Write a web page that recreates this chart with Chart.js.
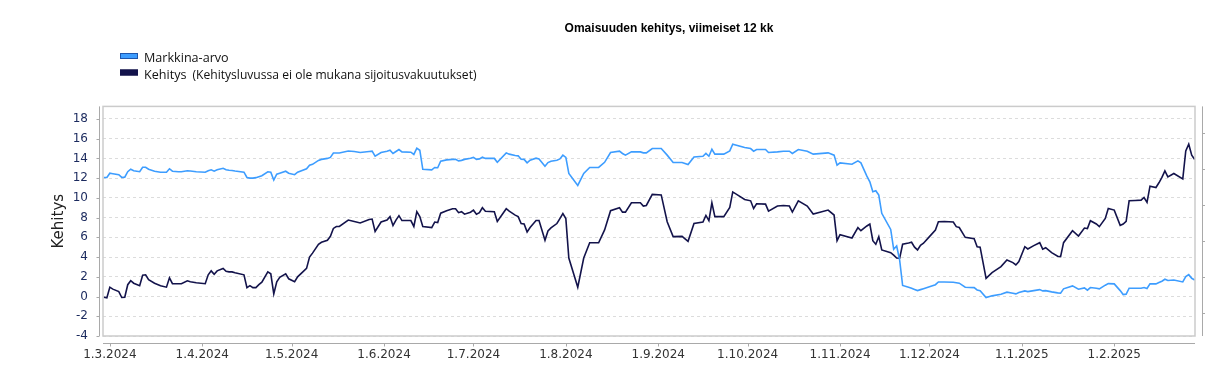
<!DOCTYPE html>
<html><head><meta charset="utf-8">
<script src="https://cdn.jsdelivr.net/npm/chart.js@4.4.1/dist/chart.umd.min.js"></script>
<style>html,body{margin:0;padding:0;background:#fff;overflow:hidden}#wrap{width:1205px;height:372px}</style>
</head><body><div id="wrap"><canvas id="c" width="1205" height="372"></canvas></div>
<script>
const chartTitle = 'Omaisuuden kehitys, viimeiset 12 kk';
const yAxisTitle = 'Kehitys';
const seriesNames = ['Markkina-arvo', 'Kehitys'];
const legendNote = '(Kehitysluvussa ei ole mukana sijoitusvakuutukset)';

const dates = [
'2024-02-28','2024-02-29','2024-03-01','2024-03-02','2024-03-04','2024-03-05','2024-03-06','2024-03-07','2024-03-08','2024-03-09',
'2024-03-11','2024-03-12','2024-03-13','2024-03-14','2024-03-16','2024-03-18','2024-03-20','2024-03-21','2024-03-22','2024-03-24',
'2024-03-25','2024-03-27','2024-03-28','2024-03-30','2024-04-02','2024-04-03','2024-04-04','2024-04-05','2024-04-06','2024-04-08',
'2024-04-09','2024-04-10','2024-04-11','2024-04-12','2024-04-15','2024-04-16','2024-04-17','2024-04-18','2024-04-19','2024-04-20',
'2024-04-21','2024-04-23','2024-04-24','2024-04-25','2024-04-26','2024-04-27','2024-04-29','2024-04-30','2024-05-02','2024-05-03',
'2024-05-06','2024-05-07','2024-05-08','2024-05-10','2024-05-11','2024-05-13','2024-05-14','2024-05-15','2024-05-16','2024-05-17',
'2024-05-20','2024-05-22','2024-05-24','2024-05-27','2024-05-28','2024-05-29','2024-05-31','2024-06-02','2024-06-03','2024-06-04',
'2024-06-05','2024-06-06','2024-06-07','2024-06-10','2024-06-11','2024-06-12','2024-06-13','2024-06-14','2024-06-17','2024-06-18',
'2024-06-19','2024-06-20','2024-06-22','2024-06-24','2024-06-25','2024-06-26','2024-06-27','2024-06-28','2024-06-30','2024-07-01',
'2024-07-02','2024-07-03','2024-07-04','2024-07-05','2024-07-08','2024-07-09','2024-07-12','2024-07-13','2024-07-15','2024-07-16',
'2024-07-17','2024-07-18','2024-07-19','2024-07-20','2024-07-22','2024-07-23','2024-07-25','2024-07-26','2024-07-27','2024-07-29',
'2024-07-30','2024-07-31','2024-08-01','2024-08-02','2024-08-05','2024-08-07','2024-08-09','2024-08-12','2024-08-14','2024-08-16',
'2024-08-19','2024-08-20','2024-08-21','2024-08-23','2024-08-26','2024-08-27','2024-08-28','2024-08-30','2024-09-02','2024-09-04',
'2024-09-06','2024-09-09','2024-09-11','2024-09-13','2024-09-16','2024-09-17','2024-09-18','2024-09-19','2024-09-20','2024-09-23',
'2024-09-25','2024-09-26','2024-09-30','2024-10-02','2024-10-03','2024-10-04','2024-10-07','2024-10-08','2024-10-11','2024-10-13',
'2024-10-15','2024-10-16','2024-10-18','2024-10-21','2024-10-23','2024-10-28','2024-10-30','2024-10-31','2024-11-01','2024-11-05',
'2024-11-07','2024-11-08','2024-11-10','2024-11-11','2024-11-12','2024-11-13','2024-11-14','2024-11-15','2024-11-18','2024-11-19',
'2024-11-20','2024-11-21','2024-11-22','2024-11-24','2024-11-25','2024-11-26','2024-11-27','2024-11-28','2024-11-29','2024-12-01',
'2024-12-03','2024-12-04','2024-12-06','2024-12-09','2024-12-10','2024-12-11','2024-12-13','2024-12-16','2024-12-17','2024-12-18',
'2024-12-20','2024-12-22','2024-12-25','2024-12-27','2024-12-29','2024-12-30','2024-12-31','2025-01-02','2025-01-03','2025-01-05',
'2025-01-07','2025-01-08','2025-01-09','2025-01-11','2025-01-13','2025-01-14','2025-01-15','2025-01-18','2025-01-20','2025-01-22',
'2025-01-23','2025-01-24','2025-01-26','2025-01-27','2025-01-29','2025-01-30','2025-02-01','2025-02-03','2025-02-04','2025-02-05',
'2025-02-06','2025-02-08','2025-02-10','2025-02-11','2025-02-12','2025-02-13','2025-02-15','2025-02-16','2025-02-17','2025-02-18',
'2025-02-19','2025-02-21','2025-02-24','2025-02-25','2025-02-26','2025-02-27','2025-02-28'
];

const marketValue = [
12.07,12.07,12.5,12.45,12.35,12.07,12.1,12.65,12.9,12.75,
12.65,13.1,13.1,12.9,12.7,12.6,12.6,12.95,12.7,12.65,
12.65,12.75,12.72,12.65,12.6,12.75,12.85,12.7,12.85,13.0,
12.85,12.8,12.78,12.72,12.6,12.07,12.0,12.0,12.05,12.15,
12.25,12.65,12.6,11.8,12.4,12.5,12.7,12.5,12.35,12.6,
12.95,13.3,13.4,13.8,13.9,14.0,14.1,14.55,14.55,14.55,
14.75,14.7,14.6,14.7,14.73,14.22,14.6,14.73,14.83,14.5,
14.7,14.9,14.66,14.63,14.4,15.03,14.83,12.9,12.84,13.08,
13.05,13.72,13.85,13.9,13.9,13.75,13.8,13.9,14.02,14.1,
13.9,13.95,14.12,14.0,14.0,13.6,14.56,14.43,14.3,14.26,
13.92,13.9,13.55,13.82,14.02,13.95,13.2,13.58,13.72,13.82,
13.95,14.33,14.1,12.47,11.26,12.47,13.08,13.08,13.6,14.6,
14.73,14.5,14.33,14.66,14.66,14.56,14.56,15.0,15.0,14.33,
13.58,13.58,13.38,14.15,14.22,14.5,14.22,14.93,14.43,14.43,
14.76,15.44,15.1,15.0,14.73,14.9,14.9,14.6,14.66,14.73,
14.73,14.5,14.9,14.73,14.43,14.56,14.33,13.31,13.55,13.41,
13.75,13.55,12.2,11.63,10.62,10.72,10.28,8.43,6.8,4.79,
5.12,3.7,1.12,0.95,0.84,0.72,0.6,0.7,0.8,1.0,
1.2,1.48,1.48,1.45,1.4,1.35,0.94,0.9,0.67,0.6,
-0.1,0.07,0.24,0.44,0.34,0.27,0.4,0.57,0.5,0.6,
0.7,0.57,0.6,0.47,0.37,0.34,0.78,1.08,0.74,0.88,
0.64,0.91,0.84,0.78,1.15,1.31,1.28,0.6,0.2,0.24,
0.84,0.84,0.84,0.91,0.81,1.28,1.28,1.42,1.55,1.75,
1.62,1.68,1.48,2.02,2.22,1.85,1.68
];

const development = [
-0.07,-0.13,0.95,0.75,0.5,-0.1,-0.07,1.2,1.6,1.35,
1.1,2.15,2.2,1.7,1.35,1.1,0.95,1.9,1.3,1.3,
1.3,1.6,1.5,1.4,1.3,2.2,2.6,2.25,2.6,2.85,
2.55,2.5,2.5,2.4,2.2,0.9,1.1,0.9,0.9,1.2,
1.45,2.5,2.3,0.27,1.5,1.95,2.3,1.8,1.5,2.0,
2.85,4.0,4.4,5.3,5.5,5.7,6.1,6.9,7.1,7.1,
7.75,7.6,7.45,7.8,7.85,6.6,7.55,7.75,8.1,7.2,
7.75,8.2,7.7,7.7,7.1,8.6,8.1,7.1,6.98,7.55,
7.5,8.45,8.7,8.9,8.9,8.5,8.6,8.35,8.55,8.75,
8.35,8.5,9.0,8.65,8.6,7.6,8.9,8.65,8.25,8.1,
7.4,7.35,6.55,7.0,7.7,7.7,5.7,6.65,6.95,7.4,
7.9,8.4,7.9,3.9,0.94,3.9,5.45,5.45,6.75,8.7,
9.0,8.55,8.55,9.5,9.5,9.17,9.23,10.35,10.3,7.58,
6.07,6.1,5.6,7.4,7.55,8.22,7.7,9.5,8.1,8.1,
9.03,10.6,9.84,9.7,8.93,9.4,9.37,8.66,9.17,9.23,
9.17,8.56,9.7,9.17,8.36,8.76,8.26,5.66,6.27,5.93,
6.98,6.67,7.15,7.35,5.66,5.3,6.07,4.72,4.45,4.2,
3.9,3.88,5.3,5.42,5.5,5.0,4.72,5.2,5.4,6.07,
6.74,7.58,7.6,7.55,7.08,7.0,6.0,5.86,5.05,5.0,
1.85,2.43,3.03,3.7,3.44,3.2,3.54,5.05,4.82,5.16,
5.46,4.8,4.95,4.45,4.08,4.04,5.46,6.67,6.13,6.94,
6.88,7.68,7.35,7.08,7.92,8.93,8.76,7.21,7.35,7.62,
9.7,9.74,9.77,10.04,9.54,11.19,11.05,11.53,12.07,12.74,
12.13,12.47,11.93,14.76,15.44,14.33,13.89
];

const xTickLabels = ['1.3.2024','1.4.2024','1.5.2024','1.6.2024','1.7.2024','1.8.2024','1.9.2024','1.10.2024','1.11.2024','1.12.2024','1.1.2025','1.2.2025'];
const yTickValues = [-4,-2,0,2,4,6,8,10,12,14,16,18];
const rightAxisTicks = [0,1,2,3,4,5];

const DAY = 86400000;
const isoUTC = s => { const [y,m,d] = s.split('-').map(Number); return Date.UTC(y, m-1, d); };
const fiUTC = s => { const [d,m,y] = s.split('.').map(Number); return Date.UTC(y, m-1, d); };
const t0 = isoUTC(dates[0]);
const xs = dates.map(s => (isoUTC(s) - t0) / DAY);
const xTickDays = xTickLabels.map(s => (fiUTC(s) - t0) / DAY);
const tickLabelByDay = {};
xTickDays.forEach((d, i) => { tickLabelByDay[d] = xTickLabels[i]; });

const BLUE = '#3d9dff';
const NAVY = '#13134b';
const tickFont = { family: '"DejaVu Sans", sans-serif', size: 12 };

const decor = {
  id: 'decor',
  afterLayout(chart) {
    const tb = chart.titleBlock;
    if (tb) { tb.left = 0; tb.right = 1338; }
  },
  afterDraw(chart) {
    const { ctx, chartArea: a, scales } = chart;
    ctx.save();
    ctx.strokeStyle = '#cbcbcb';
    ctx.lineWidth = 1.5;
    ctx.strokeRect(a.left, a.top, a.right - a.left, a.bottom - a.top);
    ctx.lineWidth = 1;
    ctx.strokeStyle = '#a9a9a9';
    ctx.beginPath();
    const ax = Math.round(a.left) - 3.5;
    ctx.moveTo(ax, a.top); ctx.lineTo(ax, a.bottom);
    scales.y.ticks.forEach(t => {
      const y = Math.round(scales.y.getPixelForValue(t.value)) + 0.5;
      ctx.moveTo(ax - 3, y); ctx.lineTo(ax, y);
    });
    const ay = Math.round(a.bottom) + 7.5;
    ctx.moveTo(a.left, ay); ctx.lineTo(a.right, ay);
    scales.x.ticks.forEach(t => {
      const x = Math.round(scales.x.getPixelForValue(t.value)) + 0.5;
      ctx.moveTo(x, ay); ctx.lineTo(x, ay + 3);
    });
    const rx = Math.round(a.right) + 7.5;
    ctx.moveTo(rx, a.top); ctx.lineTo(rx, a.bottom);
    rightAxisTicks.forEach(v => {
      const y = Math.round(scales.y2.getPixelForValue(v)) + 0.5;
      ctx.moveTo(rx, y); ctx.lineTo(rx + 3, y);
    });
    ctx.stroke();

    const lx = 120, rowY = [56, 72.5];
    const boxes = [{ fill: BLUE, stroke: '#1e56ad' }, { fill: NAVY, stroke: NAVY }];
    boxes.forEach((b, i) => {
      ctx.fillStyle = b.fill;
      ctx.fillRect(lx, rowY[i] - 3, 18, 6);
      ctx.strokeStyle = b.stroke;
      ctx.lineWidth = 1;
      ctx.strokeRect(lx + 0.5, rowY[i] - 2.5, 17, 5);
    });
    ctx.fillStyle = '#111';
    ctx.textBaseline = 'alphabetic';
    ctx.textAlign = 'left';
    ctx.font = '12.6px "Open Sans", sans-serif';
    ctx.fillText(seriesNames[0], 144, 61.5);
    ctx.fillText(seriesNames[1], 144, 78.5);
    const w = ctx.measureText(seriesNames[1]).width;
    ctx.font = '12.1px "Open Sans", sans-serif';
    ctx.fillText(legendNote, 144 + w + 6, 78.5);
    ctx.restore();
  }
};

new Chart(document.getElementById('c'), {
  type: 'line',
  data: {
    datasets: [
      { label: seriesNames[0], data: xs.map((x, i) => ({ x, y: marketValue[i] })), borderColor: BLUE, borderWidth: 1.6, pointRadius: 0, tension: 0, fill: false, yAxisID: 'y' },
      { label: seriesNames[1], data: xs.map((x, i) => ({ x, y: development[i] })), borderColor: NAVY, borderWidth: 1.6, pointRadius: 0, tension: 0, fill: false, yAxisID: 'y' }
    ]
  },
  options: {
    responsive: false,
    animation: false,
    devicePixelRatio: 1,
    layout: { padding: { left: 0, right: 10, top: 0, bottom: 0 } },
    plugins: {
      legend: { display: false },
      tooltip: { enabled: false },
      title: {
        display: true, text: chartTitle, color: '#000',
        font: { family: '"Liberation Sans", Arial, sans-serif', size: 12, weight: 'bold' },
        padding: { top: 21, bottom: 71 }
      }
    },
    scales: {
      x: {
        type: 'linear', min: xs[0] - 0.3, max: xs[xs.length - 1] + 0.1,
        grid: { display: false, drawTicks: false }, border: { display: false },
        afterBuildTicks: s => { s.ticks = xTickDays.map(v => ({ value: v })); },
        afterFit: s => { s.height = 36; },
        ticks: { autoSkip: false, maxRotation: 0, padding: 12, color: '#333', font: tickFont,
          callback: v => tickLabelByDay[v] ?? '' }
      },
      y: {
        min: -4, max: 19.27,
        afterBuildTicks: s => { s.ticks = yTickValues.map(v => ({ value: v })); },
        afterFit: s => { s.width = 103; },
        grid: { color: '#dcdcdc', lineWidth: 1, drawTicks: false },
        border: { display: false, dash: [3, 3] },
        ticks: { padding: 15, color: '#1b2a5e', font: tickFont },
        title: { display: true, text: yAxisTitle, color: '#222', font: { family: '"DejaVu Sans", sans-serif', size: 15 }, padding: { top: 50, bottom: 0 } }
      },
      y2: { display: false, position: 'right', min: -0.64, max: 5.75 }
    }
  },
  plugins: [decor]
});
</script></body></html>
